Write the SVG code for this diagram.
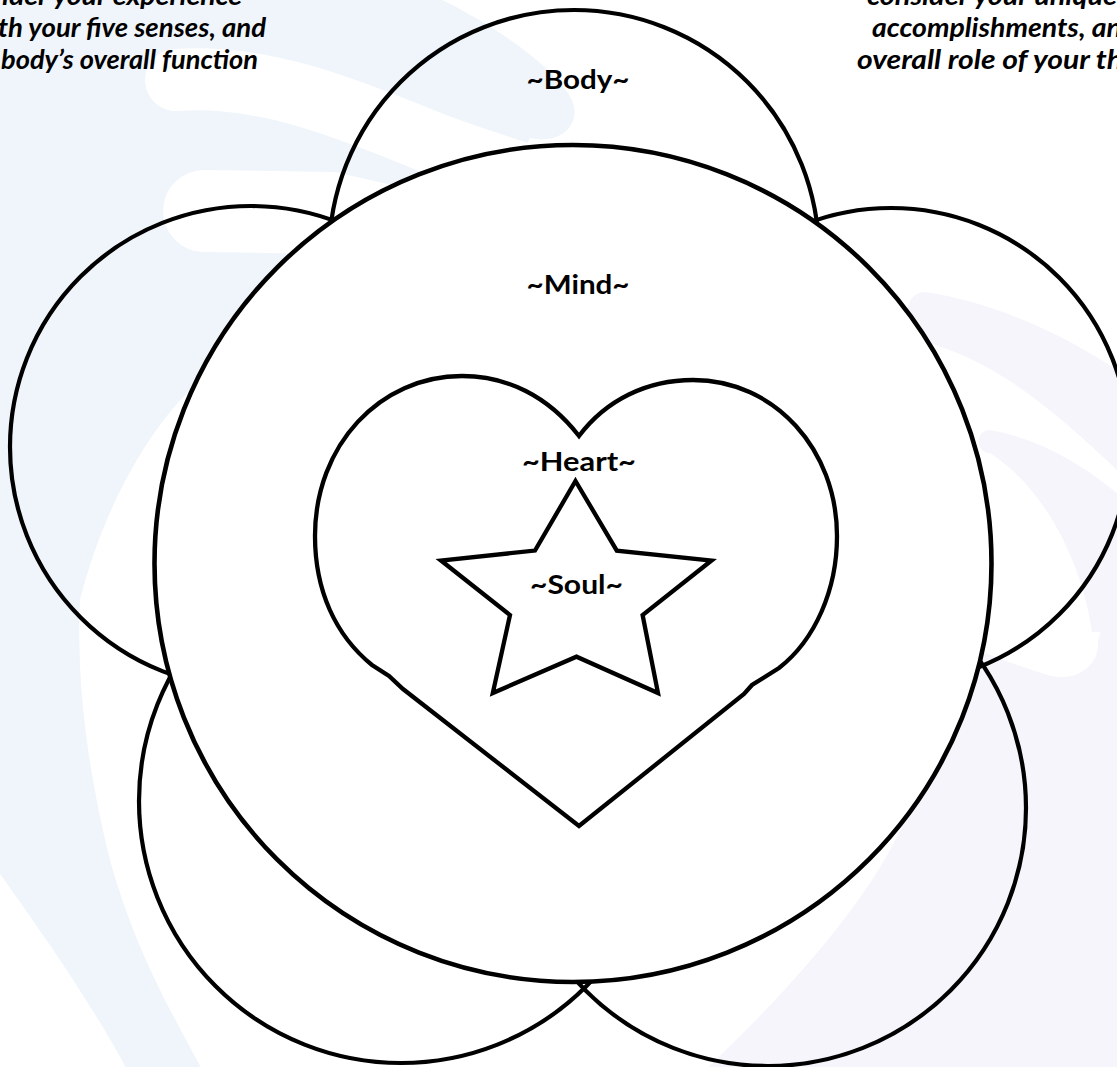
<svg xmlns="http://www.w3.org/2000/svg" width="1117" height="1067" viewBox="0 0 1117 1067">
  <style>
    .petal { fill: none; stroke: #000; stroke-width: 4.2; }
    .line { stroke: #000; stroke-width: 4.3; stroke-linejoin: miter; }
    .label { font-family: Lato, "Open Sans", sans-serif; font-weight: bold; font-size: 27px; fill: #000; text-anchor: middle; }
    .note { font-family: Lato, "Open Sans", sans-serif; font-weight: bold; font-style: italic; font-size: 27px; fill: #000; }
    .blue { fill: #eff5fb; }
    .lav { fill: #f6f5fb; }
    .gap { fill: none; stroke: #fff; stroke-linecap: round; }
    .white { fill: #fff; }
  </style>
  <rect width="1117" height="1067" fill="#fff"/>
  <g id="background">
    <path class="blue" d="M -10,-10 L 420,-10 C 480,15 555,65 572,100 C 582,125 560,145 530,138 L 450,300 L 190,390 C 140,440 100,520 80,600 C 75,700 95,800 110,860 C 135,950 170,1010 205,1075 L 130,1075 C 90,1000 40,930 -10,860 Z"/>
    <path class="gap" stroke-width="62" d="M 176,80 C 260,74 340,105 430,142 C 480,162 540,177 600,202"/>
    <path class="gap" stroke-width="82" d="M 204,211 L 330,213 L 470,245"/>
    <path class="lav" d="M 925,292 C 1010,305 1080,345 1125,375 L 1125,1075 L 700,1075 C 790,990 870,900 905,820 L 990,600 L 930,345 C 900,340 900,292 925,292 Z"/>
    <path class="white" d="M 905,338 C 990,352 1060,415 1125,478 L 1125,560 L 1098,640 C 1101,668 1072,683 1048,675 C 1015,665 985,653 950,640 L 930,450 Z"/>
    <path class="lav" d="M 990,430 C 1045,440 1090,470 1125,500 L 1125,632 L 1092,632 C 1084,572 1050,492 990,453 A 11.5,11.5 0 0 1 990,430 Z"/>
  </g>
  <g id="petals">
    <circle id="petal-body" class="petal" cx="574" cy="255" r="245"/>
    <circle id="petal-left" class="petal" cx="251" cy="447" r="241"/>
    <circle id="petal-right" class="petal" cx="891" cy="446" r="238"/>
    <circle id="petal-bottom-left" class="petal" cx="401" cy="801" r="262"/>
    <circle id="petal-bottom-right" class="petal" cx="768" cy="808" r="258"/>
  </g>
  <g id="mind">
    <circle cx="573" cy="563.5" r="418.5" fill="#fff" stroke="#000" stroke-width="4.6"/>
  </g>
  <g id="heart">
    <path class="line" fill="#fff" d="M 579,436 C 548,396 507,376 462,376 C 380,376 315,445 315,536 C 315,590 335,635 372,665 L 389,676 L 403,689 L 579,826 L 744,694 L 752,685 L 779,668 C 815,640 837,590 837,536 C 837,450 775,380 693,380 C 647,380 606,400 579,436 Z"/>
  </g>
  <g id="soul">
    <polygon class="line" fill="none" points="575.5,481 616.8,550.6 711.5,560.5 642.6,615 658,693 576.5,656.7 492.8,693 510,615 441,560.5 535,550.6"/>
  </g>
  <g id="labels">
    <text class="label" x="578" y="89" textLength="103" lengthAdjust="spacingAndGlyphs">~Body~</text>
    <text class="label" x="578" y="294" textLength="103" lengthAdjust="spacingAndGlyphs">~Mind~</text>
    <text class="label" x="579" y="471" textLength="114" lengthAdjust="spacingAndGlyphs">~Heart~</text>
    <text class="label" x="576.5" y="594" textLength="93" lengthAdjust="spacingAndGlyphs">~Soul~</text>
  </g>
  <g id="notes">
    <text class="note" x="2" y="5" textLength="240" lengthAdjust="spacingAndGlyphs">ider your experience</text>
    <text class="note" x="-2" y="37" textLength="268" lengthAdjust="spacingAndGlyphs">th your five senses, and</text>
    <text class="note" x="1" y="69" textLength="257" lengthAdjust="spacingAndGlyphs">body’s overall function</text>
    <text class="note" x="867" y="5" textLength="250" lengthAdjust="spacingAndGlyphs">consider your unique</text>
    <text class="note" x="872" y="37" textLength="250" lengthAdjust="spacingAndGlyphs">accomplishments, an</text>
    <text class="note" x="857" y="69" textLength="266" lengthAdjust="spacingAndGlyphs">overall role of your th</text>
  </g>
</svg>
